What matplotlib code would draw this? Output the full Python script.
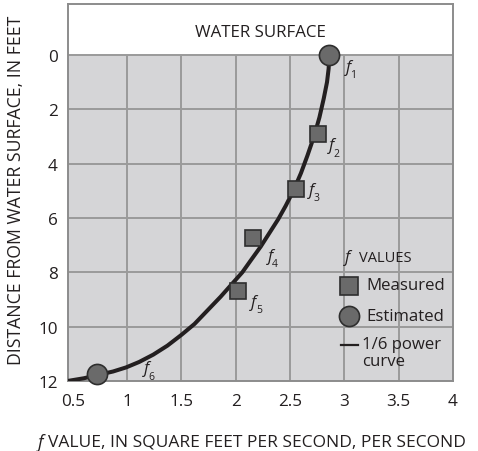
import matplotlib
matplotlib.use("Agg")
import matplotlib.pyplot as plt

plt.rcParams["font.family"] = ["Open Sans", "DejaVu Sans"]

# measured / estimated f values and their depths
measured_f = [2.76, 2.55, 2.16, 2.02]
measured_depth = [2.92, 4.93, 6.73, 8.68]
measured_names = ["2", "3", "4", "5"]

estimated_f = [2.86, 0.725]
estimated_depth = [0.0, 11.76]
estimated_names = ["1", "6"]

# 1/6 power curve
curve_f = [2.86, 2.855, 2.84, 2.81, 2.77, 2.72, 2.66, 2.60, 2.53, 2.46,
           2.39, 2.31, 2.23, 2.14, 2.06, 1.96, 1.86, 1.74, 1.62, 1.50,
           1.37, 1.24, 1.11, 0.99, 0.87, 0.73, 0.60, 0.45]
curve_depth = [0.0, 0.5, 1.0, 1.6, 2.3, 3.0, 3.7, 4.35, 5.0, 5.55,
               6.05, 6.55, 7.05, 7.55, 8.0, 8.45, 8.9, 9.4, 9.9, 10.3,
               10.7, 11.03, 11.3, 11.5, 11.65, 11.78, 11.9, 12.0]

x_ticks = [0.5, 1, 1.5, 2, 2.5, 3, 3.5, 4]
x_tick_labels = ["0.5", "1", "1.5", "2", "2.5", "3", "3.5", "4"]
y_ticks = [0, 2, 4, 6, 8, 10, 12]

GRID = "#9a9a9a"
FILL = "#d5d5d7"
MARK = "#6a6a6a"
EDGE = "#2e2e2e"
INK = "#231f20"

fig = plt.figure(figsize=(4.78, 4.52), dpi=100)
ax = fig.add_axes([68 / 478, 70 / 452, 385 / 478, 377 / 452])
ax.set_xlim(0.455, 4.0)
ax.set_ylim(12.0, -1.875)
ax.set_facecolor("white")

ax.axhspan(0, 12, color=FILL, zorder=0, lw=0)
for y in y_ticks[:-1]:
    ax.axhline(y, color=GRID, lw=1.4, zorder=1)
ax.vlines([1, 1.5, 2, 2.5, 3, 3.5], 0, 12, color=GRID, lw=1.4, zorder=1)

for s in ax.spines.values():
    s.set_color("#8c8c8c")
    s.set_linewidth(1.4)

ax.set_xticks(x_ticks)
ax.set_xticklabels(x_tick_labels)
ax.set_yticks(y_ticks)
ax.tick_params(length=0, labelsize=12.3, colors=INK)
ax.tick_params(axis="x", pad=9)
ax.tick_params(axis="y", pad=7.5)

ax.plot(curve_f, curve_depth, color=INK, lw=2.9, zorder=3,
        solid_capstyle="butt", solid_joinstyle="round")
ax.plot(measured_f, measured_depth, "s", ms=12, mfc=MARK, mec=EDGE,
        mew=1.2, zorder=4, clip_on=False)
ax.plot(estimated_f, estimated_depth, "o", ms=14.5, mfc=MARK, mec=EDGE,
        mew=1.2, zorder=4, clip_on=False)


def f_label(x, y, dx, dy, sub):
    # dx, dy in pixels from the point, y downward
    ax.annotate("f", (x, y), xytext=(dx * 0.72, -dy * 0.72),
                textcoords="offset points", ha="center", va="center",
                fontsize=12, style="italic", color=INK, zorder=5)
    ax.annotate(sub, (x, y), xytext=((dx + 5) * 0.72, -(dy + 8) * 0.72),
                textcoords="offset points", ha="center", va="center",
                fontsize=7.5, color=INK, zorder=5)


label_offsets = {"1": (19, 12), "2": (13, 11), "3": (16, 1),
                 "4": (17, 18), "5": (16, 11), "6": (49, -6)}
for fx, d, n in zip(measured_f + estimated_f, measured_depth + estimated_depth,
                    measured_names + estimated_names):
    dx, dy = label_offsets[n]
    f_label(fx, d, dx, dy, n)

ax.text(0.5, -0.85, "WATER SURFACE", transform=ax.get_yaxis_transform(),
        ha="center", va="center", fontsize=12.2, color=INK)


# legend drawn by hand, in figure pixels
def fig_xy(px, py):
    return px / 478, 1 - py / 452


fig.text(*fig_xy(348, 258), "f", style="italic", fontsize=12,
         ha="center", va="center", color=INK)
fig.text(*fig_xy(359, 258), "VALUES", fontsize=10.5, ha="left",
         va="center", color=INK)
fig.lines.append(plt.Line2D([349 / 478], [1 - 287 / 452], marker="s", ms=13,
                            mfc=MARK, mec=EDGE, mew=1.2,
                            transform=fig.transFigure, figure=fig))
fig.lines.append(plt.Line2D([349 / 478], [1 - 317 / 452], marker="o",
                            ms=14.5, mfc=MARK, mec=EDGE, mew=1.2,
                            transform=fig.transFigure, figure=fig))
fig.lines.append(plt.Line2D([341 / 478, 358 / 478], [1 - 346 / 452] * 2,
                            color=INK, lw=1.6,
                            transform=fig.transFigure, figure=fig))
fig.text(*fig_xy(366, 286), "Measured", fontsize=12.1, ha="left",
         va="center", color=INK)
fig.text(*fig_xy(366, 317), "Estimated", fontsize=12.1, ha="left",
         va="center", color=INK)
fig.text(*fig_xy(362, 345), "1/6 power", fontsize=12.1, ha="left",
         va="center", color=INK)
fig.text(*fig_xy(362, 362), "curve", fontsize=12.1, ha="left",
         va="center", color=INK)

fig.text(*fig_xy(16, 190), "DISTANCE FROM WATER SURFACE, IN FEET",
         fontsize=12.7, rotation=90, ha="center", va="center", color=INK)
fig.text(*fig_xy(41, 443), "f", style="italic", fontsize=12.7,
         ha="center", va="center", color=INK)
fig.text(*fig_xy(48, 443), "VALUE, IN SQUARE FEET PER SECOND, PER SECOND",
         fontsize=12.5, ha="left", va="center", color=INK)

fig.savefig("out.png", dpi=100)
